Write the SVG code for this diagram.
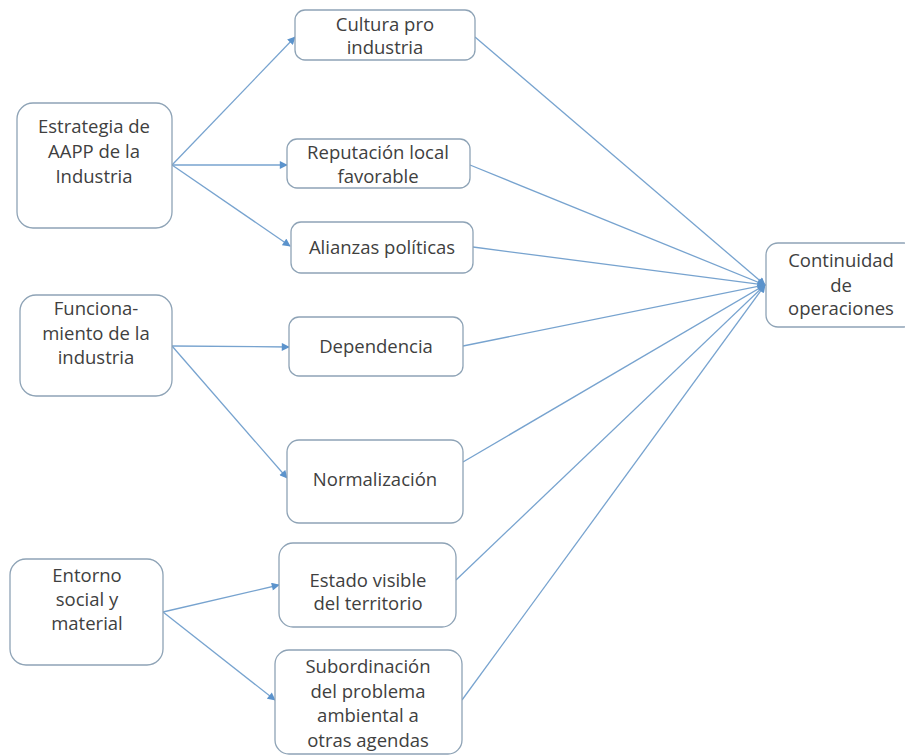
<svg xmlns="http://www.w3.org/2000/svg" width="905" height="755" viewBox="0 0 905 755">
  <style>
    .box { fill: #ffffff; stroke: #8ea3b6; stroke-width: 1.3; }
    .lbl { font-family: "Open Sans", "Noto Sans", "DejaVu Sans", sans-serif; font-size: 18.5px; fill: #404040; text-anchor: middle; }
    .edge { stroke: #77a3cf; stroke-width: 1.3; fill: none; }
    .arr { marker-end: url(#head); }
  </style>
  <defs>
    <marker id="head" viewBox="0 0 10 10" refX="9" refY="5" markerWidth="9" markerHeight="8" markerUnits="userSpaceOnUse" orient="auto">
      <path d="M0,0 L10,5 L0,10 z" fill="#5b93cc"/>
    </marker>
  </defs>
  <rect width="905" height="755" fill="#ffffff"/>

  <g id="connectors">
    <line class="edge arr" x1="172" y1="165" x2="295" y2="37"/>
    <line class="edge arr" x1="172" y1="165" x2="287" y2="165"/>
    <line class="edge arr" x1="172" y1="165" x2="290" y2="246"/>
    <line class="edge arr" x1="172" y1="346" x2="289" y2="347"/>
    <line class="edge arr" x1="172" y1="346" x2="287" y2="478"/>
    <line class="edge arr" x1="163" y1="612" x2="279" y2="585"/>
    <line class="edge arr" x1="163" y1="612" x2="275" y2="700"/>
    <line class="edge arr" x1="475" y1="37" x2="765" y2="285"/>
    <line class="edge arr" x1="470" y1="165" x2="765" y2="285"/>
    <line class="edge arr" x1="473" y1="247" x2="765" y2="285"/>
    <line class="edge arr" x1="463" y1="346" x2="765" y2="285"/>
    <line class="edge arr" x1="463" y1="462" x2="765" y2="285"/>
    <line class="edge arr" x1="456" y1="580" x2="765" y2="285"/>
    <line class="edge arr" x1="462" y1="700" x2="765" y2="285"/>
  </g>

  <g id="estrategia">
    <rect class="box" x="17" y="103" width="155" height="125" rx="16"/>
    <text class="lbl" x="94" y="133">Estrategia de</text>
    <text class="lbl" x="94" y="158">AAPP de la</text>
    <text class="lbl" x="94" y="183">Industria</text>
  </g>
  <g id="funcionamiento">
    <rect class="box" x="20" y="295" width="152" height="101" rx="16"/>
    <text class="lbl" x="96" y="315">Funciona-</text>
    <text class="lbl" x="96" y="340">miento de la</text>
    <text class="lbl" x="96" y="364">industria</text>
  </g>
  <g id="entorno">
    <rect class="box" x="10" y="559" width="153" height="106" rx="16"/>
    <text class="lbl" x="87" y="582">Entorno</text>
    <text class="lbl" x="87" y="606">social y</text>
    <text class="lbl" x="87" y="630">material</text>
  </g>
  <g id="cultura">
    <rect class="box" x="295" y="10" width="180" height="50" rx="10"/>
    <text class="lbl" x="385" y="31">Cultura pro</text>
    <text class="lbl" x="385" y="54">industria</text>
  </g>
  <g id="reputacion">
    <rect class="box" x="287" y="139" width="183" height="49" rx="10"/>
    <text class="lbl" x="378" y="159">Reputación local</text>
    <text class="lbl" x="378" y="183">favorable</text>
  </g>
  <g id="alianzas">
    <rect class="box" x="291" y="222" width="182" height="51" rx="10"/>
    <text class="lbl" x="382" y="254">Alianzas políticas</text>
  </g>
  <g id="dependencia">
    <rect class="box" x="289" y="317" width="174" height="59" rx="10"/>
    <text class="lbl" x="376" y="353">Dependencia</text>
  </g>
  <g id="normalizacion">
    <rect class="box" x="287" y="440" width="176" height="83" rx="12"/>
    <text class="lbl" x="375" y="486">Normalización</text>
  </g>
  <g id="estado">
    <rect class="box" x="279" y="543" width="177" height="84" rx="14"/>
    <text class="lbl" x="368" y="587">Estado visible</text>
    <text class="lbl" x="368" y="610">del territorio</text>
  </g>
  <g id="subordinacion">
    <rect class="box" x="275" y="650" width="187" height="104" rx="14"/>
    <text class="lbl" x="368" y="673">Subordinación</text>
    <text class="lbl" x="368" y="698">del problema</text>
    <text class="lbl" x="368" y="722">ambiental a</text>
    <text class="lbl" x="368" y="747">otras agendas</text>
  </g>
  <g id="continuidad">
    <rect class="box" x="766" y="243" width="150" height="84" rx="12"/>
    <text class="lbl" x="841" y="267">Continuidad</text>
    <text class="lbl" x="841" y="292">de</text>
    <text class="lbl" x="841" y="315">operaciones</text>
  </g>
</svg>
